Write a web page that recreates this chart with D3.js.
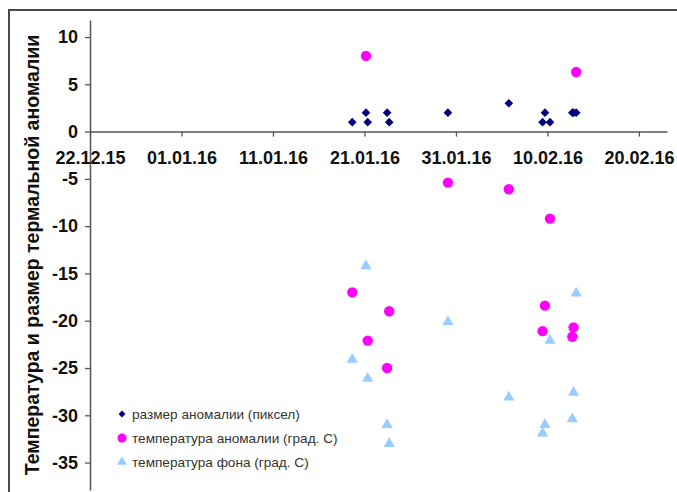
<!DOCTYPE html>
<html>
<head>
<meta charset="utf-8">
<script src="https://cdn.jsdelivr.net/npm/d3@7"></script>
<style>
  body { margin: 0; background: #fff; }
  svg { display: block; font-family: "Liberation Sans", Arial, sans-serif; }
</style>
</head>
<body>
<svg id="chart" width="677" height="492"></svg>
<script>
// observation times (UTC)
const dates = [
    "2016-01-19T16:00", "2016-01-21T04:00", "2016-01-21T08:30", "2016-01-23T11:30",
    "2016-01-23T17:00", "2016-01-30T03:00", "2016-02-05T18:45", "2016-02-09T11:15",
    "2016-02-09T17:30", "2016-02-10T06:45", "2016-02-12T17:15", "2016-02-12T20:30",
    "2016-02-13T03:30"
];
// размер аномалии (пиксел)
const anomalySize = [1, 2, 1, 2, 1, 2, 3, 1, 2, 1, 2, 2, 2];
// температура аномалии (град. С)
const anomalyTemp = [-17, 8, -22.1, -25, -19, -5.4, -6.1, -21.1, -18.4, -9.2, -21.7, -20.7, 6.3];
// температура фона (град. С)
const backgroundTemp = [-24.1, -14.2, -26.1, -31, -33, -20.1, -28.1, -31.9, -31, -22.1, -30.4, -27.6, -17.1];

const xTickLabels = ["22.12.15", "01.01.16", "11.01.16", "21.01.16", "31.01.16", "10.02.16", "20.02.16"];
const yTicks = [10, 5, 0, -5, -10, -15, -20, -25, -30, -35];

const seriesNames = ["размер аномалии (пиксел)", "температура аномалии (град. С)", "температура фона (град. С)"];

const parseTime = d3.utcParse("%Y-%m-%dT%H:%M");
const parseTick = d3.utcParse("%d.%m.%y");

const svg = d3.select("#chart");
const plot = { left: 90, right: 667, top: 20, bottom: 490 };

const x = d3.scaleUtc()
    .domain([parseTick("22.12.15"), parseTime("2016-02-23T01:40")])
    .range([plot.left, plot.right]);
const y = d3.scaleLinear()
    .domain([-37.9, 11.8])
    .range([plot.bottom, plot.top]);

// outer frame
svg.append("rect")
    .attr("x", 9).attr("y", 10)
    .attr("width", 700).attr("height", 500)
    .attr("fill", "none")
    .attr("stroke", "#4a4a4a")
    .attr("stroke-width", 2);

// y axis
const yAxis = svg.append("g")
    .attr("transform", `translate(${plot.left},0)`)
    .call(d3.axisLeft(y).tickValues(yTicks).tickFormat(d => String(d))
        .tickSize(5).tickPadding(7).tickSizeOuter(0));
yAxis.select(".domain").attr("stroke", "#555").attr("stroke-width", 1.5);
yAxis.selectAll(".tick line").attr("stroke", "#555").attr("stroke-width", 1.3);
yAxis.selectAll(".tick text")
    .attr("font-size", 18).attr("font-weight", "bold").attr("fill", "#111")
    .attr("font-family", "Liberation Sans, Arial, sans-serif");

// x axis on zero line
const xAxis = svg.append("g")
    .attr("transform", `translate(0,${y(0)})`)
    .call(d3.axisBottom(x)
        .tickValues(xTickLabels.map(parseTick))
        .tickFormat(d3.utcFormat("%d.%m.%y"))
        .tickSize(5).tickPadding(15).tickSizeOuter(0));
xAxis.select(".domain").attr("stroke", "#555").attr("stroke-width", 1.5);
xAxis.selectAll(".tick line").attr("stroke", "#555").attr("stroke-width", 1.3);
xAxis.selectAll(".tick text")
    .attr("font-size", 18).attr("font-weight", "bold").attr("fill", "#111")
    .attr("font-family", "Liberation Sans, Arial, sans-serif");

// y title
svg.append("text")
    .attr("transform", `translate(39,255) rotate(-90)`)
    .attr("text-anchor", "middle")
    .attr("font-size", 19.5).attr("font-weight", "bold").attr("fill", "#111")
    .text("Температура и размер термальной аномалии");

const rows = dates.map((d, i) => ({
    t: parseTime(d), size: anomalySize[i], anom: anomalyTemp[i], bg: backgroundTemp[i]
}));

const diamond = d3.symbol().type(d3.symbolDiamond2).size(48);
const triangle = d3.symbol().type(d3.symbolTriangle).size(55);

// background temperature (triangles)
svg.append("g").selectAll("path")
    .data(rows).join("path")
    .attr("d", triangle)
    .attr("transform", d => `translate(${x(d.t)},${y(d.bg)})`)
    .attr("fill", "#99ccff");

// anomaly temperature (circles)
svg.append("g").selectAll("circle")
    .data(rows).join("circle")
    .attr("cx", d => x(d.t)).attr("cy", d => y(d.anom))
    .attr("r", 5.2)
    .attr("fill", "#ff00ff");

// anomaly size (diamonds)
svg.append("g").selectAll("path")
    .data(rows).join("path")
    .attr("d", diamond)
    .attr("transform", d => `translate(${x(d.t)},${y(d.size)})`)
    .attr("fill", "#000080");

// legend
const legend = svg.append("g").attr("transform", "translate(122,414)");
const items = legend.selectAll("g")
    .data(seriesNames).join("g")
    .attr("transform", (d, i) => `translate(0,${i * 24})`);
items.each(function(d, i) {
    const g = d3.select(this);
    if (i === 0) g.append("path").attr("d", d3.symbol().type(d3.symbolDiamond2).size(30)).attr("fill", "#000080");
    if (i === 1) g.append("circle").attr("r", 4.5).attr("fill", "#ff00ff");
    if (i === 2) g.append("path").attr("d", d3.symbol().type(d3.symbolTriangle).size(42)).attr("fill", "#99ccff");
});
items.append("text")
    .attr("x", 10).attr("dy", "0.35em")
    .attr("font-size", 13.6).attr("fill", "#333")
    .text(d => d);
</script>
</body>
</html>
